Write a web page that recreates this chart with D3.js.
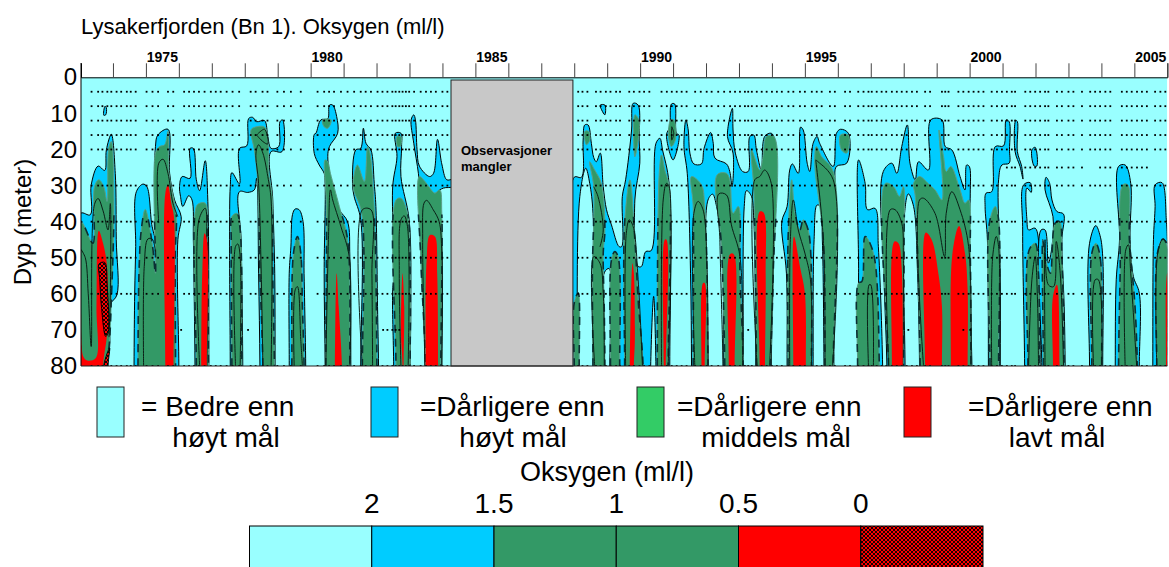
<!DOCTYPE html>
<html>
<head>
<meta charset="utf-8">
<script src="https://cdn.jsdelivr.net/npm/d3@7"></script>
<style>
  body { margin: 0; background: #fff; }
  svg { display: block; }
  text { font-family: "Liberation Sans", Arial, sans-serif; fill: #000; }
</style>
</head>
<body>
<svg id="chart" width="1169" height="567"></svg>
<script>
// outline of each contour band as [year, depth] pairs
const blueShapes = [
  [[1973.02,37.7],[1973.31,38.1],[1973.34,29.8],[1973.55,24.6],[1973.75,25.8],[1973.8,20.1],[1973.95,15.8],[1974.07,26.6],[1974.1,45],[1974.12,60.3],[1973.92,63],[1973.9,74.6],[1973.8,80],[1973.03,80]],
  [[1973.72,10.5],[1973.76,8],[1973.8,8.5],[1973.78,10.4]],
  [[1974.64,80],[1974.66,59.8],[1974.69,46.9],[1974.71,31.7],[1974.91,29.6],[1975.03,30.3],[1975.19,41.4],[1975.31,45],[1975.27,31.2],[1975.29,19.2],[1975.36,16],[1975.67,14.4],[1975.72,26.6],[1975.87,34],[1976.07,38.6],[1975.97,45],[1976,80]],
  [[1976.02,30.3],[1976.1,27.5],[1976.34,28],[1976.34,19.7],[1976.44,19.7],[1976.53,28.4],[1976.63,31.4],[1976.8,23.1],[1976.88,34.4],[1976.91,80],[1976.49,80],[1976.47,63.5],[1976.44,45],[1976.4,34],[1976.3,32.8],[1976.12,35.8],[1976.05,33]],
  [[1977.56,80],[1977.54,45],[1977.56,30.3],[1977.61,26.4],[1977.84,29.5],[1977.84,19.7],[1978.06,19],[1978.12,11.4],[1978.24,11.1],[1978.36,12.3],[1978.6,12],[1978.7,16.4],[1978.8,19.7],[1979.03,19.2],[1979.07,12.3],[1979.15,11.8],[1979.13,20.6],[1978.8,20.6],[1978.85,34],[1978.91,54.3],[1978.92,80],[1978.46,80],[1978.42,54.3],[1978.36,28],[1978.29,31.2],[1978.09,31.9],[1977.84,31.7],[1977.89,45],[1977.94,80]],
  [[1979.35,80],[1979.35,54.3],[1979.4,47],[1979.45,38],[1979.53,36.5],[1979.65,36.7],[1979.77,40],[1979.8,54.3],[1979.82,63.5],[1979.85,80]],
  [[1980.11,15.8],[1980.16,15.5],[1980.31,11.8],[1980.52,11.5],[1980.57,7.7],[1980.67,7.7],[1980.79,10.9],[1980.82,15.5],[1980.57,19.2],[1980.52,22],[1980.67,31.2],[1980.87,36.7],[1981.12,40],[1981.19,49.7],[1981.22,80],[1980.44,80],[1980.41,54.3],[1980.44,29.4],[1980.41,26.6],[1980.26,24.3],[1980.11,21.1]],
  [[1981.27,29.4],[1981.37,20.1],[1981.52,19.7],[1981.6,14.1],[1981.68,18.3],[1981.83,20.1],[1981.93,29.4],[1981.98,35.8],[1982.03,63.5],[1982.06,80],[1981.52,80],[1981.52,39.5],[1981.32,33]],
  [[1982.57,15.5],[1982.74,15.5],[1982.76,19.2],[1982.74,27.5],[1982.99,39.5],[1983.04,63.5],[1983.02,80],[1982.52,80],[1982.49,58.9],[1982.54,54.3],[1982.49,30.3],[1982.62,22]],
  [[1983.05,11.8],[1983.13,10.4],[1983.18,11.8],[1983.23,20.1],[1983.3,24.6],[1983.61,27.5],[1983.73,26.6],[1983.85,17.2],[1983.98,24],[1984.13,28.4],[1984.3,28.4],[1984.3,30.3],[1984.03,30.7],[1983.83,32.1],[1983.98,45],[1983.98,80],[1983.47,80],[1983.37,45],[1983.3,30.3],[1983.27,26.6],[1983.13,18.3]],
  [[1988,80],[1988,27.7],[1988.22,27.7],[1988.27,17.4],[1988.32,13.2],[1988.42,13.2],[1988.52,18.3],[1988.59,22.2],[1988.67,23.4],[1988.79,21],[1988.88,30.3],[1988.98,36.7],[1989.13,40.9],[1989.36,46.9],[1989.44,46.9],[1989.46,33],[1989.56,28.4],[1989.74,14.6],[1989.79,7.2],[1989.94,7.7],[1989.97,17.4],[1989.99,23.8],[1989.84,34],[1989.94,52.4],[1990.04,52.4],[1990.17,48.3],[1990.34,48],[1990.48,18.3],[1990.6,16.9],[1990.68,20.1],[1990.88,29.4],[1990.9,80],[1990.48,80],[1990.41,60.7],[1990.32,80]],
  [[1990.95,7.4],[1991.05,7.4],[1991.1,15.5],[1991.18,16],[1991,22.9],[1990.8,16],[1990.9,13.7]],
  [[1988.79,7.7],[1988.93,7.7],[1988.93,10.4],[1988.83,9]],
  [[1991.56,80],[1991.53,54.3],[1991.43,26.6],[1991.33,19.2],[1991.39,11.8],[1991.46,14.6],[1991.51,21],[1991.63,24],[1991.86,24],[1991.94,19.7],[1992.14,15.3],[1992.22,18.3],[1992.27,22.4],[1992.62,24],[1992.72,26.1],[1992.79,30.3],[1992.82,21],[1992.65,16.4],[1992.8,8.6],[1992.82,14.6],[1992.89,21],[1993.11,26.1],[1993.28,26.1],[1993.33,16.4],[1993.45,16],[1993.53,20.1],[1993.68,25.7],[1993.78,16.4],[1993.98,15.5],[1994.09,17.4],[1994.09,30.3],[1994.04,54.3],[1993.98,80]],
  [[1994.46,80],[1994.44,54.3],[1994.3,40],[1994.46,35.8],[1994.54,25.7],[1994.62,24],[1994.8,26.6],[1994.87,13.8],[1994.95,14.6],[1995.07,23.8],[1995.15,26.1],[1995.25,18.3],[1995.37,16.4],[1995.45,18.3],[1995.86,24.7],[1995.96,15.5],[1996.08,14.4],[1996.32,15.5],[1996.27,23.8],[1995.96,24.7],[1995.91,29.4],[1995.88,80]],
  [[1996.6,80],[1996.63,54],[1996.63,22.9],[1996.83,29.4],[1996.9,36.7],[1997.13,36.3],[1997.23,46.9],[1997.36,80]],
  [[1997.49,80],[1997.4,54.3],[1997.38,26.1],[1997.64,23.8],[1997.79,26.6],[1997.94,19.2],[1998.11,13.2],[1998.19,23.8],[1998.35,28.4],[1998.45,23.4],[1998.75,25.7],[1998.82,11.8],[1999.16,11.8],[1999.26,19.2],[1999.46,20.1],[1999.71,27.5],[1999.86,31.2],[1999.91,24.3],[1999.99,24.7],[2000.02,32.1],[1999.97,45],[2000.07,80]],
  [[2000.5,32.1],[2000.67,31.7],[2000.78,19.2],[2001.03,19],[2001.11,11.8],[2001.2,12.3],[2001.21,20.1],[2001.2,23.8],[2000.98,24.3],[2000.88,28.4],[2000.93,54.3],[2000.93,80],[2000.57,80],[2000.54,45],[2000.47,35.8]],
  [[2001.4,11.9],[2001.45,12.3],[2001.45,20.6],[2001.58,24.7],[2001.62,28.2],[2001.53,24.7],[2001.38,20.6]],
  [[2001.89,20.1],[2001.99,19.4],[2002.04,24.6],[2001.96,24.6]],
  [[2001.64,29.8],[2001.84,29.2],[2001.87,31.9],[2001.74,30.7],[2001.74,39.5],[2001.79,42.3],[2001.99,41.8],[2002.12,48.7],[2002.14,80],[2001.67,80],[2001.61,42.3]],
  [[2002.32,27.7],[2002.43,29.4],[2002.5,34],[2002.65,37.2],[2002.85,37.9],[2002.8,45],[2002.87,63.5],[2002.9,80],[2002.19,80],[2002.17,42.3],[2002.29,42.3],[2002.39,51.5],[2002.5,46.9],[2002.53,38.6],[2002.29,31.2]],
  [[2003.64,80],[2003.64,46],[2003.83,41.1],[2003.96,43.9],[2004.04,49.7],[2004.04,80]],
  [[2004.52,24.7],[2004.72,24.3],[2004.89,29.4],[2004.87,45],[2004.97,55.2],[2005.15,59.8],[2005.15,80],[2004.42,80],[2004.45,56.1],[2004.55,45]],
  [[2005.63,29.8],[2005.84,29.2],[2005.97,39.5],[2006,45],[2006,80],[2005.56,80],[2005.58,45],[2005.63,35.8]]
];

// pockets of good water inside the blue band
const cyanHoles = [
  [[1988.09,80],[1988.17,33],[1988.35,25.2],[1988.47,29.4],[1988.57,37.7],[1988.57,80]],
  [[1988.92,80],[1988.92,54],[1989.06,53],[1989.08,80]],
  [[1992.06,80],[1992.06,34],[1992.2,32.4],[1992.32,35.8],[1992.5,47.8],[1992.52,80]],
  [[1993.13,80],[1993.16,35.8],[1993.23,31.4],[1993.38,33],[1993.45,39.5],[1993.51,80]],
  [[1995.25,80],[1995.28,45],[1995.37,35.4],[1995.47,35.8],[1995.53,45],[1995.58,80]],
  [[1998.04,80],[1998.01,39.5],[1998.14,32.3],[1998.3,35.8],[1998.42,54.3],[1998.48,80]]
];

const greenShapes = [
  [[1973.03,40],[1973.39,46],[1973.44,30.3],[1973.57,28.4],[1973.72,30.3],[1973.82,34.4],[1973.87,19.7],[1973.95,17.8],[1974.03,34],[1973.95,61.7],[1973.88,74.6],[1973.78,80],[1973.03,80]],
  [[1974.76,80],[1974.79,54.3],[1974.86,42.3],[1974.98,36.6],[1975.19,46],[1975.29,54.3],[1975.29,21],[1975.41,19.2],[1975.57,18.7],[1975.67,15],[1975.7,26.6],[1975.92,38.1],[1975.89,48.7],[1975.9,80]],
  [[1976.53,80],[1976.53,35.8],[1976.63,34.9],[1976.8,34.9],[1976.86,45],[1976.9,80]],
  [[1977.61,80],[1977.59,45],[1977.61,38.6],[1977.76,37.7],[1977.86,42.3],[1977.91,80]],
  [[1978.55,80],[1978.46,54.3],[1978.39,28.4],[1978.29,20.1],[1978.19,14.6],[1978.32,13.8],[1978.6,13.8],[1978.7,17.4],[1978.73,26.6],[1978.83,33],[1978.85,54.3],[1978.9,80]],
  [[1979.43,80],[1979.48,48.7],[1979.6,44.1],[1979.7,48.7],[1979.75,63.5],[1979.8,80]],
  [[1980.36,11.8],[1980.62,11.8],[1980.52,14.1],[1980.41,13.7]],
  [[1980.46,80],[1980.48,35.8],[1980.44,22.9],[1980.52,23.4],[1980.6,26.6],[1980.87,35.8],[1981.12,45],[1981.19,80]],
  [[1981.29,30.3],[1981.42,24.3],[1981.63,28.9],[1981.73,19.2],[1981.8,21],[1981.9,31.2],[1981.96,45],[1982.01,80],[1981.57,80],[1981.55,37.7]],
  [[1982.62,16.4],[1982.74,16.4],[1982.72,19.2],[1982.64,19.2]],
  [[1982.59,34],[1982.74,33.5],[1982.94,37.7],[1983.02,54.3],[1983.02,80],[1982.59,80]],
  [[1983.3,27.5],[1983.47,28.9],[1983.62,30.7],[1983.77,32.1],[1983.92,31.2],[1983.98,37.7],[1983.95,80],[1983.49,80],[1983.34,49.7]],
  [[1988,80],[1988,62.6],[1988.12,59.8],[1988.15,80]],
  [[1988.32,15],[1988.44,15],[1988.47,17.4],[1988.37,18.7]],
  [[1988.57,80],[1988.55,54.3],[1988.59,30.3],[1988.47,23.4],[1988.62,25.7],[1988.82,29.4],[1988.93,42.3],[1988.88,48.7],[1988.91,63.5],[1988.93,80]],
  [[1989.1,80],[1989.13,50.6],[1989.23,48.3],[1989.33,49.7],[1989.38,80]],
  [[1989.84,10.4],[1989.96,11.8],[1989.94,17.4],[1989.84,22]],
  [[1989.53,80],[1989.53,40.4],[1989.69,28.4],[1989.84,45],[1989.94,61.7],[1990.09,80]],
  [[1990.52,80],[1990.58,26.6],[1990.65,21.5],[1990.75,25.7],[1990.88,30.3],[1990.85,80]],
  [[1990.93,11.8],[1991.02,11.8],[1991.08,16.9],[1990.95,19.2],[1990.86,16]],
  [[1991.61,80],[1991.61,35.8],[1991.56,27.5],[1991.86,29.8],[1991.96,35.8],[1992.06,80]],
  [[1992.57,80],[1992.47,46.9],[1992.34,27],[1992.62,26.6],[1992.72,28.4],[1992.82,37.7],[1992.98,35.8],[1993.03,54.3],[1993.13,80]],
  [[1993.53,80],[1993.45,31.2],[1993.38,20.1],[1993.63,25.7],[1993.73,22],[1993.83,16.4],[1994.06,16.4],[1994.04,54.3],[1993.96,80]],
  [[1994.49,80],[1994.49,45],[1994.6,28.4],[1994.7,37.7],[1994.85,42.3],[1994.95,39.5],[1995.1,42.3],[1995.2,54.3],[1995.2,80]],
  [[1995.61,80],[1995.56,45],[1995.3,23.8],[1995.35,19.2],[1995.51,22],[1995.86,26.1],[1995.86,80]],
  [[1996.08,16],[1996.32,16],[1996.27,21],[1996.11,20.1]],
  [[1996.6,80],[1996.63,57],[1996.73,56.6],[1996.83,44.1],[1997.08,48.7],[1997.26,80]],
  [[1997.54,80],[1997.44,29.4],[1997.69,30.3],[1997.87,33],[1997.99,30.3],[1998.01,45],[1997.99,80]],
  [[1998.5,80],[1998.35,33],[1998.3,29.4],[1998.48,27.5],[1998.75,29.5],[1998.95,31.2],[1999.16,34],[1999.07,14.6],[1999.21,22],[1999.29,26.1],[1999.43,24.7],[1999.71,31.2],[1999.86,34.9],[1999.97,34],[2000.02,48.7],[2000.04,80]],
  [[2000.62,80],[2000.6,40.4],[2000.78,35.8],[2000.88,39.5],[2000.88,80]],
  [[2001.77,80],[2001.81,47.8],[2001.99,46],[2002.09,54.3],[2002.12,80]],
  [[2002.24,80],[2002.22,45],[2002.29,49.7],[2002.45,54.3],[2002.6,40.4],[2002.73,40],[2002.8,49.7],[2002.87,80]],
  [[2003.71,80],[2003.71,48.7],[2003.83,46],[2003.96,49.7],[2004.01,80]],
  [[2004.52,80],[2004.57,54.3],[2004.65,29.8],[2004.8,29.8],[2004.85,45],[2005.02,63.5],[2005.09,80]],
  [[2005.68,80],[2005.7,48.7],[2005.87,44.8],[2006,47],[2006,80]]
];

// the 1 ml/l contour, same fill on both sides so only the line shows
const midLines = [
  [[1973.03,47.7],[1973.16,50],[1973.25,60],[1973.34,74.6],[1973.44,35.2],[1973.55,33.6],[1973.7,37],[1973.85,42.3],[1973.92,35],[1973.92,60],[1973.88,72]],
  [[1974.93,80],[1974.95,52.4],[1975.06,44.8],[1975.19,44.8],[1975.29,48.3]],
  [[1975.39,40.4],[1975.39,23.8],[1975.52,22.7],[1975.67,26.6],[1975.82,34.9],[1975.97,38.6]],
  [[1976.63,80],[1976.61,39.5],[1976.8,36.3],[1976.85,45],[1976.85,80]],
  [[1977.72,80],[1977.72,46.9],[1977.79,46.2],[1977.86,49.7],[1977.86,80]],
  [[1978.36,16],[1978.6,14.4],[1978.7,18.5],[1978.55,17.8],[1978.36,16]],
  [[1978.55,80],[1978.5,54.3],[1978.42,29.4],[1978.34,21],[1978.42,18.7],[1978.55,21],[1978.7,27.5],[1978.8,34],[1978.8,80]],
  [[1979.5,80],[1979.53,58.9],[1979.6,58],[1979.7,72.7],[1979.75,80]],
  [[1980.46,80],[1980.54,45],[1980.6,31.2],[1980.67,34],[1980.92,41.4],[1981.17,49.7],[1981.19,80]],
  [[1981.57,80],[1981.57,36.7],[1981.83,36.7],[1981.86,54.3],[1981.88,80]],
  [[1982.74,80],[1982.69,54.3],[1982.74,39.5],[1982.84,38.4],[1982.94,41.4],[1982.96,80]],
  [[1983.47,80],[1983.4,45],[1983.44,34.9],[1983.52,34.1],[1983.72,36.7],[1983.9,40],[1983.98,48.7],[1983.98,80]],
  [[1988.59,30.3],[1988.72,33],[1988.88,42.3],[1988.78,47]],
  [[1988.62,80],[1988.59,49.7],[1988.78,51.5],[1988.88,59.8],[1988.91,80]],
  [[1989.56,80],[1989.58,43.2],[1989.67,39.5],[1989.79,41.4],[1989.94,56.1],[1990.07,80]],
  [[1990.65,80],[1990.7,34],[1990.8,29.4],[1990.88,30.3],[1990.85,80]],
  [[1990.96,13.7],[1991.02,15.5],[1990.96,17.4],[1990.96,13.7]],
  [[1991.66,80],[1991.63,37.7],[1991.76,34.4],[1991.91,36.7],[1992.03,52.4],[1992.06,80]],
  [[1992.52,80],[1992.42,45],[1992.39,32.3],[1992.62,32.6],[1992.77,40.9],[1993.03,49.7],[1993.11,80]],
  [[1993.55,80],[1993.48,28.4],[1993.63,27.5],[1993.78,25.7],[1993.98,29.4],[1993.93,80]],
  [[1994.54,80],[1994.56,45],[1994.65,34],[1994.8,42.3],[1995,48.7],[1995.17,56.1],[1995.2,80]],
  [[1995.33,22.9],[1995.4,23.4],[1995.86,28.4],[1995.84,80]],
  [[1995.61,80],[1995.56,45],[1995.33,22.9]],
  [[1996.93,80],[1996.95,57.5],[1997,57.5],[1997.08,80]],
  [[1997.54,80],[1997.59,36.7],[1997.74,36.7],[1997.94,40.4],[1997.99,50],[1997.97,80]],
  [[1998.6,80],[1998.48,34],[1998.6,33.5],[1998.95,37.7],[1999.24,49.7],[1999.29,37.7],[1999.46,31.7],[1999.71,36.7],[1999.97,46.9],[2000.04,80]],
  [[2000.67,80],[2000.7,49.7],[2000.81,44.1],[2000.88,46.9],[2000.91,80]],
  [[2001.79,80],[2001.89,56.1],[2001.99,49.7],[2002.06,61.7],[2002.09,80]],
  [[2002.29,80],[2002.29,45],[2002.39,57.5],[2002.55,58],[2002.63,45.5],[2002.75,54.3],[2002.85,80]],
  [[2003.76,80],[2003.81,56.1],[2003.91,56.1],[2004.01,80]],
  [[2004.72,80],[2004.74,47.8],[2004.82,46.4],[2004.89,54.3],[2005.07,80]],
  [[2005.68,80],[2005.71,48.7],[2005.87,44.8],[2006,46]]
];

const redShapes = [
  [[1973.03,65.4],[1973.1,77.4],[1973.22,78.5],[1973.48,77.8],[1973.5,63.5],[1973.57,42.5],[1973.7,46],[1973.82,52.4],[1973.82,71],[1973.7,80],[1973.03,80]],
  [[1975.59,80],[1975.59,32.1],[1975.67,29.8],[1975.77,34.9],[1975.85,38.6],[1975.84,80]],
  [[1976.68,80],[1976.71,54.3],[1976.78,43.2],[1976.85,45],[1976.85,80]],
  [[1980.74,80],[1980.79,54.3],[1980.85,63.5],[1980.95,80]],
  [[1982.79,80],[1982.74,70],[1982.79,54.3],[1982.84,63.5],[1982.82,80]],
  [[1983.49,80],[1983.52,50.6],[1983.62,43.7],[1983.77,44.1],[1983.84,54.3],[1983.87,80]],
  [[1989.69,80],[1989.77,51.5],[1989.81,54.3],[1989.84,72.7],[1989.81,80]],
  [[1990.72,80],[1990.75,45],[1990.8,45],[1990.78,80]],
  [[1991.86,80],[1991.91,57],[1991.96,57],[1991.96,80]],
  [[1992.69,80],[1992.73,49],[1992.84,49],[1992.87,80]],
  [[1993.63,80],[1993.63,37.2],[1993.75,37.5],[1993.81,54.3],[1993.79,80]],
  [[1994.65,80],[1994.67,44.1],[1994.85,52.4],[1995,59.8],[1995.03,80]],
  [[1997.64,80],[1997.72,45.5],[1997.84,46],[1997.94,53.3],[1997.97,80]],
  [[1998.65,80],[1998.67,43],[1998.85,45],[1999.05,54.3],[1999.16,63.5],[1999.16,80]],
  [[1999.43,80],[1999.48,48.7],[1999.68,41.2],[1999.86,48.7],[1999.94,58.9],[1999.94,80]],
  [[2002.53,80],[2002.53,60.7],[2002.65,57.5],[2002.73,80]],
  [[2005.96,80],[2005.96,58],[2006,54],[2006,80]]
];

const hatchShapes = [
  [[1973.58,51.7],[1973.75,51.3],[1973.82,57],[1973.85,70.9],[1973.78,71.8],[1973.65,63.5],[1973.6,56.1]],
  [[1973.72,80],[1973.9,75],[1973.85,80]]
];

// observation dates, one dot per date on each sampled depth
const sampleYears = [
  1973.35,1973.55,1973.68,1973.83,1973.95,1974.11,1974.25,1974.42,1974.54,1974.69,
  1975.02,1975.2,1975.37,1975.67,1975.83,1976.16,1976.31,1976.46,1976.61,1976.78,1976.97,
  1977.12,1977.27,1977.45,1977.63,1977.83,1978.18,1978.33,1978.54,1978.69,1978.99,
  1979.19,1979.4,1979.7,1980.21,1980.41,1980.56,1980.71,1980.92,1981.12,1981.32,1981.52,1981.67,1981.83,
  1982.03,1982.18,1982.33,1982.48,1982.58,1982.69,1982.79,1982.89,1982.99,
  1983.14,1983.34,1983.5,1983.65,1983.8,1984,1984.15,
  1988.12,1988.25,1988.4,1988.66,1988.8,1988.96,1989.1,1989.27,1989.39,1989.67,1989.81,1989.98,
  1990.12,1990.28,1990.65,1990.81,1990.96,1991.11,1991.26,1991.41,1991.67,1991.84,
  1992.02,1992.17,1992.37,1992.55,1992.73,1992.88,1993.03,1993.18,1993.28,1993.39,1993.54,1993.69,1993.84,
  1994,1994.15,1994.3,1994.5,1994.65,1994.85,1995,1995.21,1995.36,1995.51,1995.76,1995.91,
  1996.22,1996.37,1996.62,1996.78,1996.93,1997.03,1997.18,1997.33,1997.47,1997.64,1997.79,1997.94,
  1998.09,1998.25,1998.4,1998.65,1998.8,1999.16,1999.26,1999.36,1999.66,1999.81,1999.97,
  2000.12,2000.27,2000.42,2000.67,2000.83,2000.98,2001.13,2001.28,2001.38,2001.69,2001.84,2001.99,
  2002.14,2002.29,2002.39,2002.65,2002.8,2003,2003.15,2003.41,2003.66,2003.81,2003.96,
  2004.12,2004.27,2004.62,2004.77,2004.92,2005.08,2005.23,2005.38,2005.63,2005.79,2005.94
];
const sampleDepths = [4, 8, 12, 16, 20, 30, 40, 50, 60, 80];
const depth25Years = [
  2001.13,2001.28,2001.38,2001.69,2001.84,2001.99,2002.14,2002.29,2002.39,2002.65,2002.8,2003,2003.15,2003.41,
  2003.96,2004.12,2004.27,2004.62,2004.77,2004.92,2005.08,2005.23,2005.38
];
const depth70Years = [1976.07,1978.1,1982.2,1982.33,1982.48,1982.58,1982.69,1993.28,1998.14,1999.81,2000.02];

const yearTicks = d3.range(1974, 2007);
const yearLabels = [1975, 1980, 1985, 1990, 1995, 2000, 2005];
const depthTicks = [0, 10, 20, 30, 40, 50, 60, 70, 80];
const gapYears = [1984.26, 1987.96];
const gapDepths = [0.75, 80];
const gapText = ['Observasjoner', 'mangler'];

const legendColors = ['#99FFFF', '#00CCFF', '#33CC66', '#FF0000'];
const legendLine1 = ['= Bedre enn', '=Dårligere enn', '=Dårligere enn', '=Dårligere enn'];
const legendLine2 = ['høyt mål', 'høyt mål', 'middels mål', 'lavt mål'];

const barColors = ['#99FFFF', '#00CCFF', '#339966', '#339966', '#FF0000', 'url(#hatch)'];
const barLabels = ['2', '1.5', '1', '0.5', '0'];

const svg = d3.select('#chart');

const x = d3.scaleLinear().domain([1973.03, 2006]).range([81, 1167.3]);
const y = d3.scaleLinear().domain([0, 80]).range([77.3, 366]);
const closedLine = d3.line().x((d) => x(d[0])).y((d) => y(d[1])).curve(d3.curveCatmullRomClosed.alpha(0.5));
const open = d3.line().x((d) => x(d[0])).y((d) => y(d[1])).curve(d3.curveCatmullRom.alpha(0.5));

// bottom corners get a straight run below the clip so the smoothing stays off the columns
function closed(shape) {
  const n = shape.length;
  const run = [];
  shape.forEach((p, i) => {
    if (p[1] < 80) { run.push(p); return; }
    const prevDeep = shape[(i + n - 1) % n][1] >= 80;
    const nextDeep = shape[(i + 1) % n][1] >= 80;
    if (!prevDeep) run.push(p);
    run.push([p[0], 100]);
    if (!nextDeep) run.push(p);
  });
  return closedLine(run);
}

const defs = svg.append('defs');
const hatch = defs.append('pattern').attr('id', 'hatch')
  .attr('width', 4).attr('height', 4).attr('patternUnits', 'userSpaceOnUse');
hatch.append('rect').attr('width', 4).attr('height', 4).attr('fill', '#FF0000');
hatch.append('path').attr('d', 'M0,0L4,4M4,0L0,4').attr('stroke', '#000').attr('stroke-width', 0.9);

defs.append('clipPath').attr('id', 'plot-clip').append('rect')
  .attr('x', x(1973.03)).attr('y', y(0)).attr('width', x(2006) - x(1973.03)).attr('height', y(80) - y(0));
// the dashed look only shows on the steep lower column edges
defs.append('clipPath').attr('id', 'deep-clip').append('rect')
  .attr('x', x(1973.03)).attr('y', y(38)).attr('width', x(2006) - x(1973.03)).attr('height', y(80) - y(38));

const plot = svg.append('g').attr('clip-path', 'url(#plot-clip)');
plot.append('rect').attr('x', x(1973.03)).attr('y', y(0))
  .attr('width', x(2006) - x(1973.03)).attr('height', y(80) - y(0)).attr('fill', '#99FFFF');

function drawShapes(shapes, fill, stroke) {
  plot.append('g').selectAll('path').data(shapes).join('path')
    .attr('d', closed)
    .attr('fill', fill)
    .attr('stroke', stroke)
    .attr('stroke-width', 1)
    .attr('stroke-linejoin', 'round');
}

drawShapes(blueShapes, '#00CCFF', '#000');
drawShapes(cyanHoles, '#99FFFF', '#000');
drawShapes(greenShapes, '#339966', '#5a9f86');
plot.append('g').attr('clip-path', 'url(#deep-clip)').selectAll('path').data(greenShapes).join('path')
  .attr('d', closed).attr('fill', 'none').attr('stroke', '#0b2f33')
  .attr('stroke-width', 1.6).attr('stroke-dasharray', '8 6');
plot.append('g').selectAll('path').data(midLines).join('path')
  .attr('d', open).attr('fill', 'none').attr('stroke', '#0a1f16').attr('stroke-width', 1);
drawShapes(redShapes, '#FF0000', 'none');
drawShapes(hatchShapes, 'url(#hatch)', '#000');

// sample dots
const dots = [];
sampleDepths.forEach((depth) => sampleYears.forEach((year) => dots.push([year, depth])));
depth25Years.forEach((year) => dots.push([year, 25]));
depth70Years.forEach((year) => dots.push([year, 70]));
plot.append('g').selectAll('rect').data(dots).join('rect')
  .attr('x', (d) => x(d[0]) - 0.9).attr('y', (d) => y(d[1]) - 0.9)
  .attr('width', 1.8).attr('height', 1.8).attr('fill', '#000');

// grey box where there are no observations
svg.append('rect')
  .attr('x', x(gapYears[0])).attr('y', y(gapDepths[0]))
  .attr('width', x(gapYears[1]) - x(gapYears[0])).attr('height', y(gapDepths[1]) - y(gapDepths[0]))
  .attr('fill', '#C8C8C8').attr('stroke', '#222').attr('stroke-width', 1);
svg.selectAll('.gap-text').data(gapText).join('text').attr('class', 'gap-text')
  .attr('x', x(gapYears[0]) + 10)
  .attr('y', (d, i) => 155 + i * 16)
  .attr('font-size', 13).attr('font-weight', 'bold')
  .text((d) => d);

// axes
const topAxis = d3.axisTop(x).tickValues(yearTicks).tickSize(14).tickFormat('');
const topG = svg.append('g').attr('transform', `translate(0,${y(0)})`).call(topAxis);
topG.select('.domain').attr('stroke', '#000');
topG.selectAll('.tick line').attr('stroke', '#444');

svg.append('line').attr('x1', x(1973.03)).attr('x2', x(1973.03)).attr('y1', 63).attr('y2', y(80)).attr('stroke', '#000');
svg.append('line').attr('x1', x(1973.03)).attr('x2', x(2006)).attr('y1', y(80)).attr('y2', y(80)).attr('stroke', '#222');

svg.selectAll('.year-label').data(yearLabels).join('text').attr('class', 'year-label')
  .attr('x', (d) => x(d + 0.5)).attr('y', 62)
  .attr('text-anchor', 'middle').attr('font-size', 14).attr('font-weight', 'bold')
  .text((d) => d);

const leftAxis = d3.axisLeft(y).tickValues(depthTicks).tickSize(0).tickPadding(4);
const leftG = svg.append('g').attr('transform', `translate(${x(1973.03)},0)`).call(leftAxis);
leftG.select('.domain').remove();
leftG.selectAll('text').attr('font-size', 24).attr('font-family', '"Liberation Sans", Arial, sans-serif');

svg.append('text').attr('transform', 'translate(31,222) rotate(-90)')
  .attr('text-anchor', 'middle').attr('font-size', 24).text('Dyp (meter)');
svg.append('text').attr('x', 81).attr('y', 34).attr('font-size', 22)
  .text('Lysakerfjorden (Bn 1). Oksygen (ml/l)');

// legend
const legendX = d3.scaleOrdinal().domain(legendColors.map((d, i) => i)).range([97, 371, 637, 904]);
const line1X = [141, 420, 677, 968];
const line2X = [226, 513, 776, 1057];
svg.selectAll('.legend-box').data(legendColors).join('rect').attr('class', 'legend-box')
  .attr('x', (d, i) => legendX(i)).attr('y', 387).attr('width', 27).attr('height', 50)
  .attr('fill', (d) => d).attr('stroke', '#222');
svg.selectAll('.legend-a').data(legendLine1).join('text').attr('class', 'legend-a')
  .attr('x', (d, i) => line1X[i]).attr('y', 416).attr('font-size', 28).text((d) => d);
svg.selectAll('.legend-b').data(legendLine2).join('text').attr('class', 'legend-b')
  .attr('x', (d, i) => line2X[i]).attr('y', 447).attr('text-anchor', 'middle').attr('font-size', 28).text((d) => d);

// colour bar
const bar = d3.scaleBand().domain(d3.range(barColors.length)).range([249.5, 983]);
svg.selectAll('.bar-cell').data(barColors).join('rect').attr('class', 'bar-cell')
  .attr('x', (d, i) => bar(i)).attr('y', 526).attr('width', bar.bandwidth()).attr('height', 42)
  .attr('fill', (d) => d).attr('stroke', '#000');
svg.selectAll('.bar-label').data(barLabels).join('text').attr('class', 'bar-label')
  .attr('x', (d, i) => bar(i + 1)).attr('y', 513)
  .attr('text-anchor', 'middle').attr('font-size', 28).text((d) => d);
svg.append('text').attr('x', 607).attr('y', 481).attr('text-anchor', 'middle').attr('font-size', 27)
  .text('Oksygen (ml/l)');
</script>
</body>
</html>
